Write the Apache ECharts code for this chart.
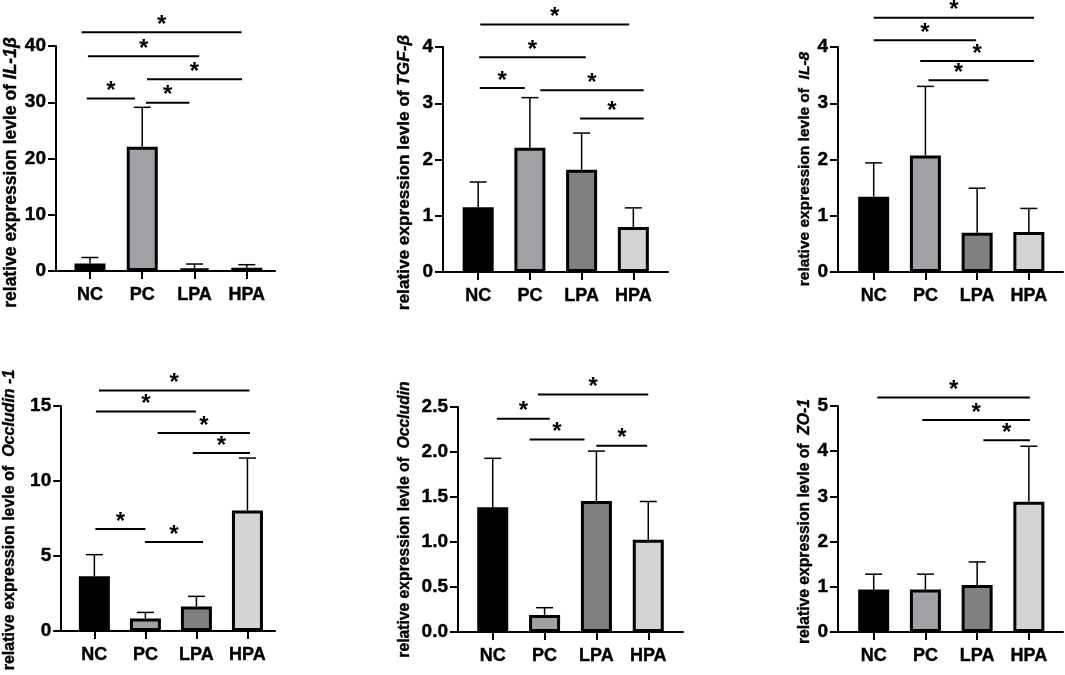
<!DOCTYPE html>
<html>
<head>
<meta charset="utf-8">
<script src="https://cdn.jsdelivr.net/npm/echarts@6/dist/echarts.min.js"></script>
<style>
html,body{margin:0;padding:0;background:#fff;}
#chart{width:1065px;height:675px;}
</style>
</head>
<body>
<div id="chart"></div>
<script>
// ---------------- data ----------------
const categories = ['NC', 'PC', 'LPA', 'HPA'];

const genes = ['IL-1β', 'TGF-β', 'IL-8', 'Occludin -1', 'Occludin', 'ZO-1'];
const namePrefixes = ['relative expression levle of ', 'relative expression levle of ',
  'relative expression levle of  ', 'relative expression levle of  ',
  'relative expression levle of  ', 'relative expression levle of  '];

const il1bMean = [1.35, 22.1, 0.48, 0.58];
const il1bSD   = [1.05, 7.0, 0.76, 0.54];
const tgfbMean = [1.15, 2.21, 1.82, 0.80];
const tgfbSD   = [0.45, 0.89, 0.65, 0.34];
const il8Mean  = [1.34, 2.07, 0.70, 0.71];
const il8SD    = [0.60, 1.23, 0.79, 0.42];
const ocl1Mean = [3.65, 0.84, 1.63, 8.03];
const ocl1SD   = [1.44, 0.40, 0.68, 3.50];
const oclMean  = [1.385, 0.19, 1.455, 1.025];
const oclSD    = [0.545, 0.08, 0.555, 0.425];
const zo1Mean  = [0.94, 0.94, 1.04, 2.88];
const zo1SD    = [0.34, 0.34, 0.51, 1.23];

// significance bars: [from, level, to]
const il1bSig = [[-0.16, 42.45, 2.9], [-0.04, 38.2, 2.09], [1.09, 34.1, 2.91], [-0.06, 30.65, 0.86], [1.07, 29.9, 1.90]];
const tgfbSig = [[0.04, 4.40, 2.92], [0.02, 3.82, 2.08], [0.03, 3.27, 0.90], [1.20, 3.23, 3.20], [1.97, 2.73, 3.20]];
const il8Sig  = [[0.0, 4.52, 3.1], [0.0, 4.12, 1.98], [0.90, 3.75, 3.1], [1.06, 3.41, 2.22]];
const ocl1Sig = [[0.09, 16.04, 3.04], [0.03, 14.64, 1.99], [1.24, 13.2, 3.05], [1.93, 11.87, 3.05], [0.02, 6.8, 1.0], [0.99, 5.93, 2.13]];
const oclSig  = [[0.87, 2.64, 3.0], [0.08, 2.37, 1.10], [0.71, 2.14, 1.77], [2.0, 2.07, 2.98]];
const zo1Sig  = [[0.07, 5.19, 3.02], [0.94, 4.69, 3.02], [2.12, 4.24, 3.02]];

const yMax  = [40, 4, 4, 15, 2.5, 5];
const yStep = [10, 1, 1, 5, 0.5, 1];
const yDecimals = [0, 0, 0, 0, 1, 0];

const means = [il1bMean, tgfbMean, il8Mean, ocl1Mean, oclMean, zo1Mean];
const sds   = [il1bSD, tgfbSD, il8SD, ocl1SD, oclSD, zo1SD];
const sigs  = [il1bSig, tgfbSig, il8Sig, ocl1Sig, oclSig, zo1Sig];

// ---------------- layout / style ----------------
const barColors = ['#000000', '#a1a1a5', '#808080', '#d4d4d4'];
const layout = [
  {left: 56,  top: 46,  width: 219, height: 225, xmin: -0.65, xmax: 3.54, gap: 25, nameSize: 17.5, shift: 28},
  {left: 443, top: 47,  width: 225, height: 225, xmin: -0.68, xmax: 3.67, gap: 30, nameSize: 17.2, shift: 26},
  {left: 838, top: 47,  width: 225, height: 225, xmin: -0.69, xmax: 3.66, gap: 24, nameSize: 15.5, shift: 19},
  {left: 56,  top: 406, width: 219, height: 225, xmin: -0.65, xmax: 3.54, gap: 44, nameSize: 16,   shift: 3},
  {left: 458, top: 407, width: 225, height: 225, xmin: -0.67, xmax: 3.67, gap: 45, nameSize: 15.7, shift: 0},
  {left: 838, top: 406, width: 225, height: 226, xmin: -0.69, xmax: 3.66, gap: 24, nameSize: 15.7, shift: 5}
];
const FONT = "'Liberation Sans', Arial, Helvetica, sans-serif";
const heavy = {textBorderColor: '#000', textBorderWidth: 0.4};

const grid = [], xAxis = [], yAxis = [], series = [];
layout.forEach((L, i) => {
  grid.push({left: L.left, top: L.top, width: L.width, height: L.height, containLabel: false});
  xAxis.push({
    type: 'value', gridIndex: i, min: L.xmin, max: L.xmax,
    splitLine: {show: false},
    axisLine: {show: true, onZero: false, lineStyle: {color: '#000', width: 2}},
    axisTick: {show: true, customValues: [0, 1, 2, 3], length: 8, lineStyle: {color: '#000', width: 2}},
    axisLabel: Object.assign({
      customValues: [0, 1, 2, 3], margin: 15,
      formatter: v => categories[Math.round(v)] || '',
      color: '#000', fontWeight: 'bold', fontSize: 18, fontFamily: FONT
    }, heavy)
  });
  yAxis.push({
    type: 'value', gridIndex: i, min: 0, max: yMax[i], interval: yStep[i],
    splitLine: {show: false},
    axisLine: {show: true, onZero: false, lineStyle: {color: '#000', width: 2}},
    axisTick: {show: true, length: 8, lineStyle: {color: '#000', width: 2}},
    axisLabel: Object.assign({
      margin: 10, color: '#000', fontWeight: 'bold', fontSize: 19, fontFamily: FONT,
      formatter: v => Number(v).toFixed(yDecimals[i])
    }, heavy),
    name: '{n|' + namePrefixes[i] + '}{g|' + genes[i] + '}',
    nameLocation: 'middle', nameGap: L.gap,
    nameTextStyle: {
      padding: [0, L.shift, 0, 0],
      rich: {
        n: Object.assign({fontWeight: 'bold', fontSize: L.nameSize, fontFamily: FONT, color: '#000'}, heavy),
        g: Object.assign({fontWeight: 'bold', fontStyle: 'italic', fontSize: L.nameSize, fontFamily: FONT, color: '#000'}, heavy)
      }
    }
  });

  // error bars (behind bars)
  series.push({
    type: 'custom', xAxisIndex: i, yAxisIndex: i, z: 1, clip: false, silent: true,
    data: means[i].map((m, k) => [k, m, m + sds[i][k]]),
    renderItem: (params, api) => {
      const x = api.value(0), m = api.value(1), t = api.value(2);
      const p0 = api.coord([x, m]), p1 = api.coord([x, t]);
      const hw = 8.5;
      return {type: 'group', children: [
        {type: 'line', shape: {x1: p0[0], y1: p0[1], x2: p1[0], y2: p1[1]}, style: {stroke: '#000', lineWidth: 1.5}},
        {type: 'line', shape: {x1: p1[0] - hw, y1: p1[1], x2: p1[0] + hw, y2: p1[1]}, style: {stroke: '#000', lineWidth: 1.5}}
      ]};
    }
  });
  // bars
  series.push({
    type: 'bar', xAxisIndex: i, yAxisIndex: i, z: 3, barWidth: 31, silent: true,
    data: means[i].map((m, k) => ({value: [k, m], itemStyle: {color: barColors[k], borderColor: '#000', borderWidth: 3}}))
  });
  // significance lines with asterisks
  series.push({
    type: 'custom', xAxisIndex: i, yAxisIndex: i, z: 4, clip: false, silent: true,
    data: sigs[i],
    renderItem: (params, api) => {
      const a = api.value(0), y = api.value(1), b = api.value(2);
      const p0 = api.coord([a, y]), p1 = api.coord([b, y]);
      return {type: 'group', children: [
        {type: 'line', shape: {x1: p0[0], y1: p0[1], x2: p1[0], y2: p1[1]}, style: {stroke: '#000', lineWidth: 2}},
        {type: 'text', x: (p0[0] + p1[0]) / 2, y: p0[1] + 5,
         style: {text: '*', fontSize: 24, fontWeight: 'bold', fontFamily: FONT, fill: '#000', align: 'center', verticalAlign: 'bottom'}}
      ]};
    }
  });
});

const chart = echarts.init(document.getElementById('chart'), null, {renderer: 'canvas'});
chart.setOption({
  animation: false,
  backgroundColor: '#ffffff',
  grid, xAxis, yAxis, series
});
</script>
</body>
</html>
